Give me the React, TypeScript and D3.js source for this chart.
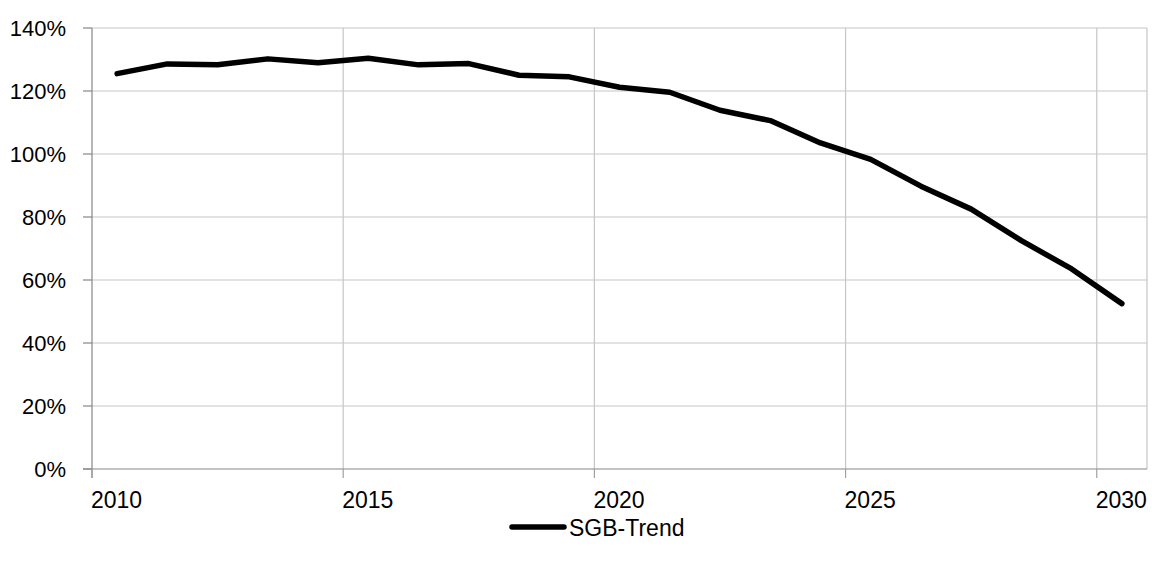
import React from "react";
import * as d3 from "d3";

const years: number[] = [2010.5, 2011.5, 2012.5, 2013.5, 2014.5, 2015.5, 2016.5, 2017.5, 2018.5, 2019.5, 2020.5, 2021.5, 2022.5, 2023.5, 2024.5, 2025.5, 2026.5, 2027.5, 2028.5, 2029.5, 2030.5];
const trendValues: number[] = [125.5, 128.6, 128.3, 130.2, 129.0, 130.4, 128.3, 128.7, 125.0, 124.5, 121.2, 119.6, 113.9, 110.6, 103.5, 98.3, 89.8, 82.5, 72.5, 63.5, 52.5];
const xTicks: number[] = [2010, 2015, 2020, 2025, 2030];
const yTicks: number[] = [0, 20, 40, 60, 80, 100, 120, 140];
const seriesName = "SGB-Trend";

const W = 1152;
const H = 566;
const left = 92;
const right = 1147;
const top = 28;
const bottom = 469;
const FONT = "'Liberation Sans', Arial, sans-serif";

export default function App() {
  const x = d3.scaleLinear().domain([2010, 2031]).range([left, right]);
  const y = d3.scaleLinear().domain([0, 140]).range([bottom, top]);
  const line = d3
    .line<number>()
    .x((_, i) => x(years[i]))
    .y((d) => y(d));
  const pathD = line(trendValues) || "";

  return (
    <svg width={W} height={H} style={{ position: "absolute", left: 0, top: 0, background: "#fff" }}>
      <rect x={0} y={0} width={W} height={H} fill="#fff" />
      {yTicks.filter((t) => t > 0).map((t) => (
        <line key={"hg" + t} x1={left} x2={right} y1={y(t)} y2={y(t)} stroke="#c6c6c6" strokeWidth={1.2} />
      ))}
      {xTicks.filter((t) => t > 2010).map((t) => (
        <line key={"vg" + t} x1={x(t)} x2={x(t)} y1={top} y2={bottom} stroke="#c6c6c6" strokeWidth={1.2} />
      ))}
      <line x1={right} x2={right} y1={top} y2={bottom} stroke="#c6c6c6" strokeWidth={1.2} />
      <line x1={left} x2={left} y1={top} y2={bottom + 9} stroke="#868686" strokeWidth={1.2} />
      <line x1={left - 9} x2={right} y1={bottom} y2={bottom} stroke="#868686" strokeWidth={1.2} />
      {yTicks.map((t) => (
        <line key={"yt" + t} x1={left - 9} x2={left} y1={y(t)} y2={y(t)} stroke="#868686" strokeWidth={1.2} />
      ))}
      {xTicks.map((t) => (
        <line key={"xt" + t} x1={x(t)} x2={x(t)} y1={bottom} y2={bottom + 9} stroke="#a0a0a0" strokeWidth={1.2} />
      ))}
      {yTicks.map((t) => (
        <text key={"yl" + t} x={66} y={y(t) + 8} textAnchor="end" fontFamily={FONT} fontSize={22} fill="#000">
          {t + "%"}
        </text>
      ))}
      {xTicks.map((t) => (
        <text key={"xl" + t} x={x(t) - 1} y={508} textAnchor="start" fontFamily={FONT} fontSize={23} fill="#000">
          {t}
        </text>
      ))}
      <path d={pathD} fill="none" stroke="#000" strokeWidth={5.5} strokeLinejoin="round" strokeLinecap="round" />
      <line x1={512} x2={564} y1={527} y2={527} stroke="#000" strokeWidth={5.5} strokeLinecap="round" />
      <text x={569} y={536} fontFamily={FONT} fontSize={23} fill="#000">
        {seriesName}
      </text>
    </svg>
  );
}
